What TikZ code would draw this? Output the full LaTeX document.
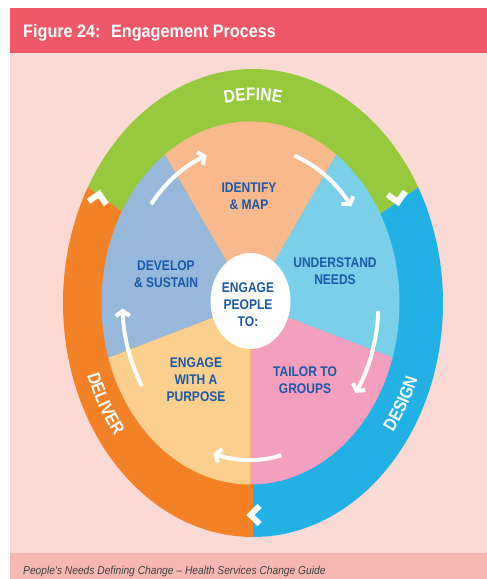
\documentclass[tikz,border=0pt]{standalone}
\usepackage{fontspec}
\setmainfont{Liberation Sans}
\newfontfamily\narrowsans[FakeStretch=0.86]{Liberation Sans}
\newfontfamily\titlesans[FakeStretch=0.9]{Liberation Sans}
\newfontfamily\footsans[FakeStretch=0.89]{Liberation Sans}
\usetikzlibrary{arrows.meta,decorations.text}

\definecolor{headred}{HTML}{EF5868}
\definecolor{panelpink}{HTML}{FBDAD5}
\definecolor{footpink}{HTML}{F8B8B2}
\definecolor{ringgreen}{HTML}{97C93D}
\definecolor{ringblue}{HTML}{21B1E4}
\definecolor{ringorange}{HTML}{F38226}
\definecolor{secpeach}{HTML}{F9B98D}
\definecolor{secsky}{HTML}{7AD0E8}
\definecolor{secpink}{HTML}{F59FBF}
\definecolor{secsand}{HTML}{FBCF8E}
\definecolor{secsteel}{HTML}{96B9DB}
\definecolor{labelblue}{HTML}{1B58A6}

\newcommand\ringlabelfont{\narrowsans\bfseries\fontsize{18}{18}\selectfont}

\tikzset{
  seclabel/.style={align=center, text=labelblue, inner sep=0pt,
    font=\narrowsans\bfseries\fontsize{14}{17}\selectfont},
  flowarrow/.style={draw=white, line width=4pt,
    -{Straight Barb[length=5pt,width=14pt]}},
  chevron/.style={draw=white, line width=6pt, line join=miter, line cap=butt},
  ringtext/.style={decorate, decoration={text along path, text align=center,
    text color=white, text={|\ringlabelfont|#1}}}
}

\begin{document}
\begin{tikzpicture}[x=1pt,y=1pt]
\useasboundingbox (0,0) rectangle (487,579);
\fill[white] (0,0) rectangle (487,579);

% panel, header band and footer band
\fill[panelpink] (10,26) rectangle (487,526);
\fill[headred] (10,526) rectangle (487,571);
\fill[footpink] (10,0) rectangle (487,26);
\node[anchor=base west, text=white, inner sep=0pt,
  font=\titlesans\bfseries\fontsize{18}{18}\selectfont]
  (title) at (23,541) {Figure 24:~ Engagement Process};
\node[anchor=base west, text=black!75, inner sep=0pt,
  font=\footsans\itshape\fontsize{11.5}{11.5}\selectfont]
  (source) at (23,5) {People's Needs Defining Change – Health Services Change Guide};

% outer ring: define / design / deliver
\coordinate (R) at (253,276);
\begin{scope}
  \clip (R) ellipse [x radius=190pt, y radius=234pt];
  \fill[ringgreen] (R) -- +(35:400pt) -- +(90:400pt) -- +(145:400pt) -- cycle;
  \fill[ringblue] (R) -- +(-90:400pt) -- +(-27:400pt) -- +(35:400pt) -- cycle;
  \fill[ringorange] (R) -- +(145:400pt) -- +(207:400pt) -- +(270:400pt) -- cycle;
\end{scope}

% inner pie of five steps
\coordinate (P) at (250.5,276);
\begin{scope}
  \clip (P) ellipse [x radius=149pt, y radius=181.5pt];
  \fill[secpeach] (P) -- +(60:300pt) -- +(90:300pt) -- +(120:300pt) -- cycle;
  \fill[secsky] (P) -- +(-21:300pt) -- +(19.5:300pt) -- +(60:300pt) -- cycle;
  \fill[secpink] (P) -- +(-90:300pt) -- +(-55.5:300pt) -- +(-21:300pt) -- cycle;
  \fill[secsand] (P) -- +(201:300pt) -- +(235.5:300pt) -- +(270:300pt) -- cycle;
  \fill[secsteel] (P) -- +(120:300pt) -- +(160.5:300pt) -- +(201:300pt) -- cycle;
\end{scope}

% centre
\fill[white] (250.5,278) ellipse [x radius=40pt, y radius=48pt];

% step labels
\node[seclabel] (identify) at (249,382.5) {IDENTIFY\\\& MAP};
\node[seclabel] (develop) at (166,305) {DEVELOP\\\& SUSTAIN};
\node[seclabel] (understand) at (335,308) {UNDERSTAND\\NEEDS};
\node[seclabel] (centre) at (248,274) {ENGAGE\\PEOPLE\\TO:};
\node[seclabel] (tailor) at (305,199) {TAILOR TO\\GROUPS};
\node[seclabel] (purpose) at (196,199) {ENGAGE\\WITH A\\PURPOSE};

% ring labels along the ellipse
\path[ringtext=DEFINE] ([shift={(R)}]130:165pt and 202.5pt)
  arc[start angle=130, end angle=50, x radius=165pt, y radius=202.5pt];
\path[ringtext=DESIGN] ([shift={(R)}]-60:176pt and 214pt)
  arc[start angle=-60, end angle=0, x radius=176pt, y radius=214pt];
\path[ringtext=DELIVER] ([shift={(R)}]180:176pt and 214pt)
  arc[start angle=180, end angle=240, x radius=176pt, y radius=214pt];

% cycle arrows between the steps
\draw[flowarrow] ([shift={(P)}]141:128pt and 157pt)
  arc[start angle=141, end angle=110, x radius=128pt, y radius=157pt];
\draw[flowarrow] ([shift={(P)}]70:128pt and 157pt)
  arc[start angle=70, end angle=38, x radius=128pt, y radius=157pt];
\draw[flowarrow] ([shift={(P)}]-3:128pt and 157pt)
  arc[start angle=-3, end angle=-35, x radius=128pt, y radius=157pt];
\draw[flowarrow] ([shift={(P)}]-76:128pt and 157pt)
  arc[start angle=-76, end angle=-107, x radius=128pt, y radius=157pt];
\draw[flowarrow] ([shift={(P)}]212:128pt and 157pt)
  arc[start angle=212, end angle=182, x radius=128pt, y radius=157pt];

% chevrons where the ring changes phase
\draw[chevron, shift={(99,385)}, rotate=80] (-9,9) -- (0,0) -- (-9,-9);
\draw[chevron, shift={(398,377)}, rotate=280] (-9,9) -- (0,0) -- (-9,-9);
\draw[chevron, shift={(250.5,64)}, rotate=180] (-9,9) -- (0,0) -- (-9,-9);
\end{tikzpicture}
\end{document}
